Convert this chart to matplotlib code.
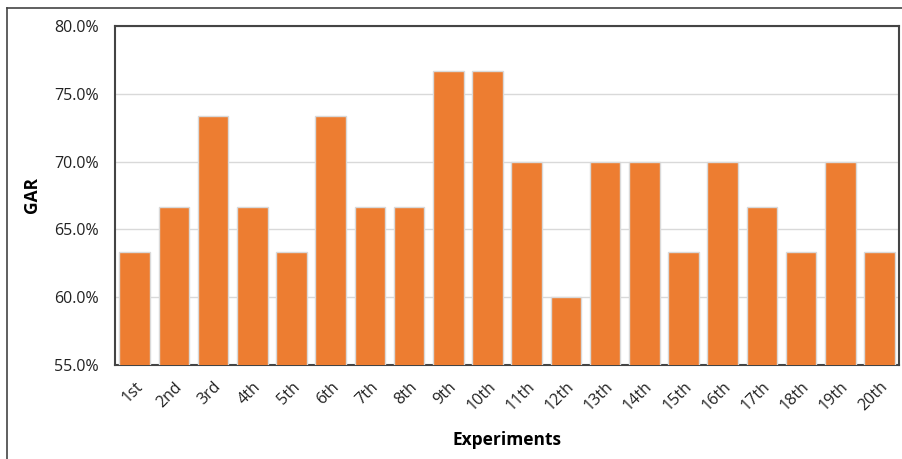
import matplotlib.pyplot as plt
from matplotlib.ticker import PercentFormatter
from matplotlib.lines import Line2D

labels = ['1st', '2nd', '3rd', '4th', '5th', '6th', '7th', '8th', '9th', '10th',
          '11th', '12th', '13th', '14th', '15th', '16th', '17th', '18th', '19th', '20th']
gar = [63.33, 66.67, 73.33, 66.67, 63.33, 73.33, 66.67, 66.67, 76.67, 76.67,
       70.0, 60.0, 70.0, 70.0, 63.33, 70.0, 66.67, 63.33, 70.0, 63.33]

plt.rcParams['font.family'] = ['Open Sans', 'DejaVu Sans']

fig = plt.figure(figsize=(9.03, 4.59), dpi=100)
ax = fig.add_axes([0.1274, 0.2048, 0.8682, 0.7386])

x = range(len(labels))
ax.bar(x, gar, width=0.78, color='#ED7D31', edgecolor='#D9D9D9', linewidth=1.0, zorder=3)

ax.set_xlim(-0.5, len(labels) - 0.5)
ax.set_ylim(55, 80)
ax.set_yticks([55, 60, 65, 70, 75, 80])
ax.yaxis.set_major_formatter(PercentFormatter(decimals=1))
ax.grid(axis='y', color='#D9D9D9', linewidth=1, zorder=0)

ax.set_xticks(list(x))
ax.set_xticklabels(labels, rotation=45, ha='right', rotation_mode='anchor')
ax.tick_params(axis='both', length=0, labelsize=11.5, colors='#222222')
ax.tick_params(axis='x', pad=10)
ax.tick_params(axis='y', pad=12)

for s in ax.spines.values():
    s.set_color('#444444')
    s.set_linewidth(1.5)

ax.set_xlabel('Experiments', fontsize=12.5, fontweight='bold', labelpad=12)
ax.set_ylabel('GAR', fontsize=12.5, fontweight='bold', labelpad=9)

# outer frame (partially cropped in the reference)
fig.add_artist(Line2D([7 / 903, 1.0], [1 - 8 / 459, 1 - 8 / 459], color='#444444', lw=1.2))
fig.add_artist(Line2D([7 / 903, 7 / 903], [0, 1 - 8 / 459], color='#444444', lw=1.2))

fig.savefig('out.png', dpi=100)
